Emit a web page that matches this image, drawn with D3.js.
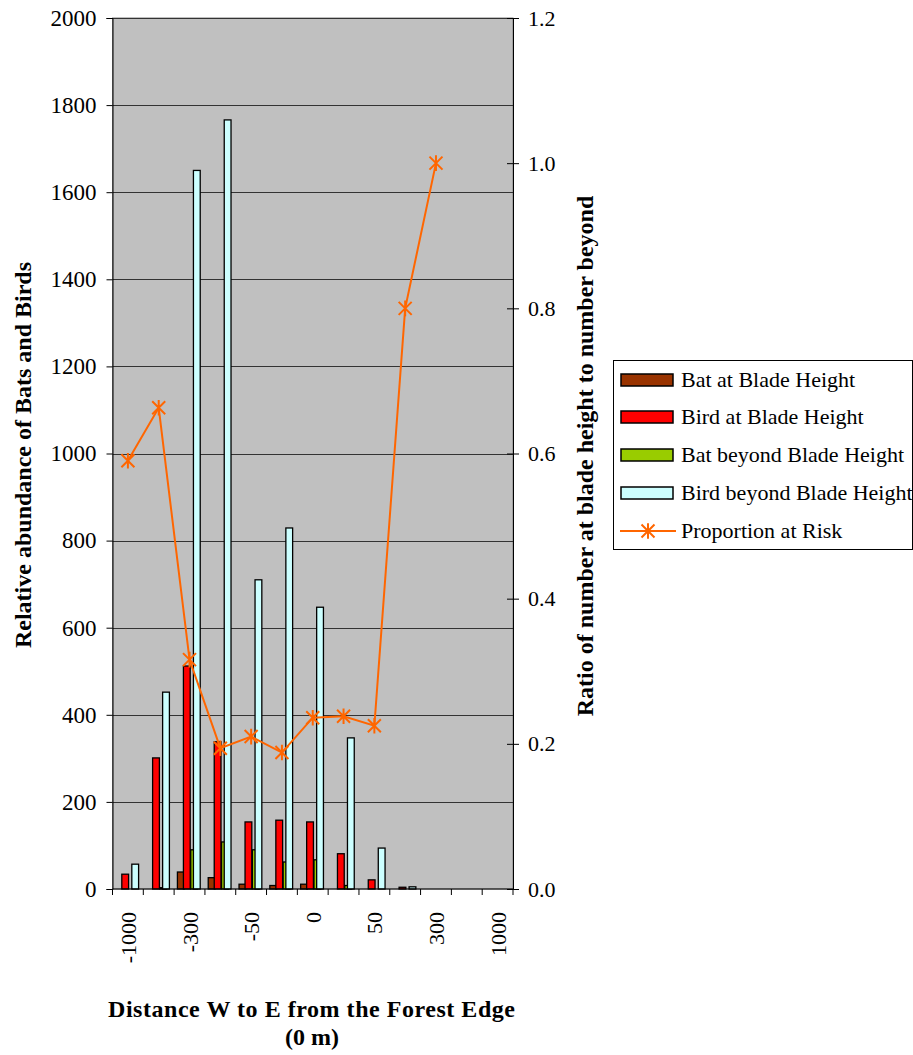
<!DOCTYPE html>
<html><head><meta charset="utf-8">
<script src="https://cdn.jsdelivr.net/npm/d3@7"></script>
<style>body{margin:0;background:#fff}</style>
</head><body><svg id="c" width="913" height="1055"></svg>
<script>
const categories = ["-1000","-500","-300","-100","-50","-25","0","25","50","100","300","500","1000"];
const tickLabels = ["-1000","-300","-50","0","50","300","1000"];
const batAtBlade    = [0, 0, 39, 26, 11, 8, 11, 0, 0, 0, 0, 0, 0];
const birdAtBlade   = [34, 301, 512, 338, 154, 158, 154, 81, 21, 4, 0, 0, 0];
const batBeyond     = [0, 3, 90, 108, 90, 62, 67, 8, 0, 0, 0, 0, 0];
const birdBeyond    = [57, 452, 1650, 1766, 710, 829, 647, 347, 94, 5, 0, 0, 0];
const propAtRisk    = [0.590, 0.663, 0.316, 0.194, 0.210, 0.188, 0.236, 0.238, 0.225, 0.80, 1.0, null, null];
const seriesNames = ["Bat at Blade Height","Bird at Blade Height","Bat beyond Blade Height","Bird beyond Blade Height"];
const seriesColors = ["#993300","#FF0000","#99CC00","#CCFFFF"];
const leftTicks = [0,200,400,600,800,1000,1200,1400,1600,1800,2000];
const rightTicks = [0,0.2,0.4,0.6,0.8,1.0,1.2];

const FONT='"Liberation Serif"';
const svg = d3.select("#c");
const L=112.5, R=513, T=18, B=889;
const x = d3.scaleBand().domain(categories).range([L,R]).padding(0);
const y = d3.scaleLinear().domain([0,2000]).range([B,T]);
const y2 = d3.scaleLinear().domain([0,1.2]).range([B,T]);
const bw = x.bandwidth();

svg.append("rect").attr("x",L).attr("y",T).attr("width",R-L).attr("height",B-T).attr("fill","#C0C0C0").attr("stroke","#808080");
svg.append("g").selectAll("line").data(leftTicks.slice(1)).join("line")
  .attr("x1",L).attr("x2",R).attr("y1",d=>Math.round(y(d))+0.5).attr("y2",d=>Math.round(y(d))+0.5)
  .attr("stroke","#333").attr("stroke-width",1);

const allSeries=[batAtBlade,birdAtBlade,batBeyond,birdBeyond];
const offs=[0.107,0.302,0.54,0.627];
const barW=bw*0.22;
allSeries.forEach((s,i)=>{
  svg.append("g").selectAll("rect").data(s.map((v,j)=>({v,c:categories[j]})).filter(d=>d.v>0)).join("rect")
    .attr("x",d=>x(d.c)+offs[i]*bw).attr("width",barW)
    .attr("y",d=>y(d.v)).attr("height",d=>B-y(d.v))
    .attr("fill",seriesColors[i]).attr("stroke","#000").attr("stroke-width",1.3);
});

function serif(sel){ return sel.attr("font-family","Liberation Serif").style("font-family",FONT); }

const ax = svg.append("g").attr("transform",`translate(${L},0)`)
  .call(d3.axisLeft(y).tickValues(leftTicks).tickSize(6).tickPadding(10).tickFormat(d3.format("d")));
serif(ax);
ax.select(".domain").attr("stroke","#000");
serif(ax.selectAll("text").attr("font-size",23).attr("fill","#000"));
const ax2 = svg.append("g").attr("transform",`translate(${R},0)`)
  .call(d3.axisRight(y2).tickValues(rightTicks).tickSize(6).tickPadding(9).tickFormat(d3.format(".1f")));
serif(ax2);
ax2.selectAll(".tick line").attr("x1",-6);
ax2.select(".domain").attr("stroke","#000");
serif(ax2.selectAll("text").attr("font-size",22).attr("fill","#000"));
svg.append("line").attr("x1",L).attr("x2",R).attr("y1",B).attr("y2",B).attr("stroke","#000");
svg.append("g").selectAll("line").data(categories.concat(["end"])).join("line")
  .attr("x1",(d,i)=>L+i*bw).attr("x2",(d,i)=>L+i*bw).attr("y1",B).attr("y2",B+6).attr("stroke","#000");
serif(svg.append("g").selectAll("text").data(tickLabels).join("text")
  .attr("transform",d=>`translate(${x(d)+bw/2+8},${B+23}) rotate(-90)`)
  .attr("text-anchor","end").attr("font-size",22)).text(d=>d);

const pts = propAtRisk.map((v,i)=>({v,c:categories[i]})).filter(d=>d.v!==null);
svg.append("path").datum(pts).attr("fill","none").attr("stroke","#FF6600").attr("stroke-width",2)
  .attr("d",d3.line().x(d=>x(d.c)+bw/2).y(d=>y2(d.v)));
function star(g,cx,cy,r){
  g.append("path").attr("d",`M${cx-r},${cy-r}L${cx+r},${cy+r}M${cx-r},${cy+r}L${cx+r},${cy-r}M${cx},${cy-r*1.2}L${cx},${cy+r*1.2}`)
   .attr("stroke","#FF6600").attr("stroke-width",2).attr("fill","none");
}
const mg=svg.append("g");
pts.forEach(d=>star(mg,x(d.c)+bw/2,y2(d.v),6.5));

function title(t,size){ return serif(t.attr("font-size",size).attr("font-weight","bold")); }
title(svg.append("text").attr("transform",`translate(31,455) rotate(-90)`).attr("text-anchor","middle"),24)
  .text("Relative abundance of Bats and Birds");
title(svg.append("text").attr("transform",`translate(593,456) rotate(-90)`).attr("text-anchor","middle"),24)
  .text("Ratio of number at blade height to number beyond");
title(svg.append("text").attr("x",311.5).attr("y",1017).attr("text-anchor","middle")
  .attr("textLength",407).attr("lengthAdjust","spacing"),24).text("Distance W to E from the Forest Edge");
title(svg.append("text").attr("x",312).attr("y",1045).attr("text-anchor","middle"),24).text("(0 m)");

const lg=svg.append("g");
lg.append("rect").attr("x",613.5).attr("y",360.5).attr("width",299).attr("height",189).attr("fill","#fff").attr("stroke","#000");
const ly=[380,417,455,493,531];
seriesNames.forEach((n,i)=>{
  lg.append("rect").attr("x",621).attr("y",ly[i]-6).attr("width",52).attr("height",12).attr("fill",seriesColors[i]).attr("stroke","#000").attr("stroke-width",1.5);
  serif(lg.append("text").attr("x",681).attr("y",ly[i]+7).attr("font-size",22)).text(n);
});
lg.append("line").attr("x1",620).attr("x2",676).attr("y1",ly[4]).attr("y2",ly[4]).attr("stroke","#FF6600").attr("stroke-width",2);
star(lg,648,ly[4],6.5);
serif(lg.append("text").attr("x",681).attr("y",ly[4]+7).attr("font-size",22)).text("Proportion at Risk");
</script></body></html>
